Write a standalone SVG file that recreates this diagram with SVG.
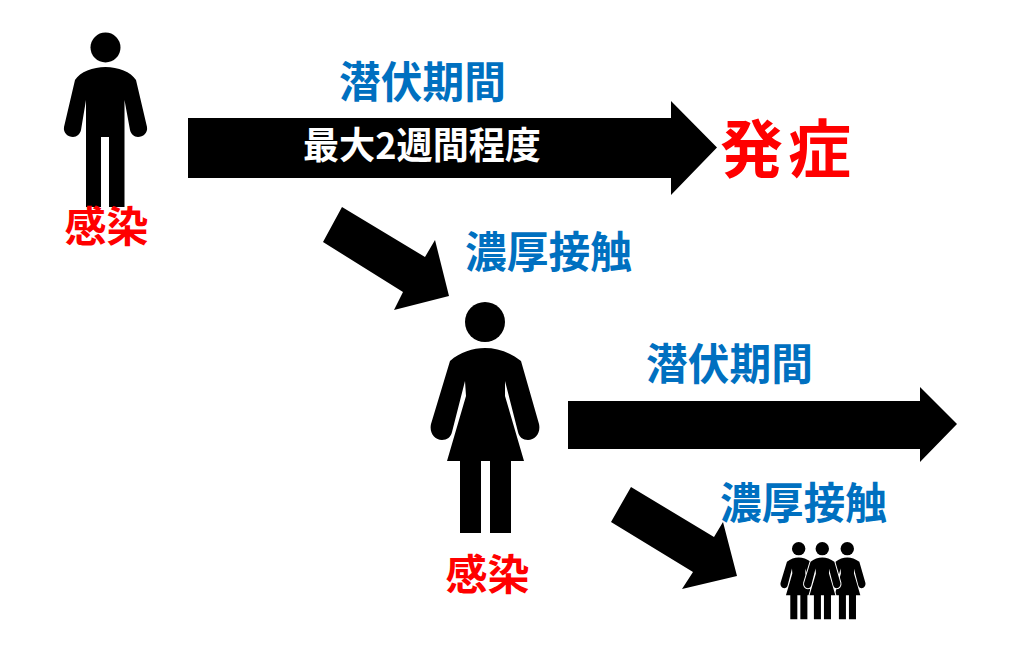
<svg xmlns="http://www.w3.org/2000/svg" xmlns:xlink="http://www.w3.org/1999/xlink" width="1030" height="660" viewBox="0 0 1030 660">
<style>
.t{font-family:"Noto Sans CJK JP","Noto Sans CJK SC",sans-serif;font-weight:700}
.b{fill:#0070C0;font-size:43px}
.r{fill:#FF0000}
.k{fill:#000}
</style>
<defs>
<g id="woman">
<circle cx="485" cy="322" r="20"/>
<path d="M450,361 C460,352 473,348 485,348 C497,348 510,352 521,361 L539,424 C541,433 535,440 528,440 C523,440 519,437 518,432 L505,381 L505,396 L524,461 L511,461 L511,533 L490,533 L490,461 L481,461 L481,533 L460,533 L460,461 L447,461 L466,396 L465,381 L452,432 C451,437 447,440 442,440 C435,440 429,433 431,424 Z"/>
</g>
</defs>
<rect width="1030" height="660" fill="#fff"/>
<g id="connectors" class="k">
<path d="M188,118 H671 V101 L717,147.500 L671,195 V178 H188 Z"/>
<path d="M342,207 L425,257 L435,240 L449,296 L394,310 L403,292 L323,242 Z"/>
<path d="M568,401 H920 V387 L957,424 L920,462 V449 H568 Z"/>
<path d="M631,487 L714,537 L723,522 L737,576 L682,589 L693,572 L611,522 Z"/>
</g>
<g id="man-infected">
<circle cx="105.500" cy="47.500" r="15"/>
<path d="M75,80 C80,72 93,67 105.500,67 C118,67 131,72 136,80 L147,127 C148,133 143,137 138,137 C134,137 131,134 130,130 L124.500,100 L124.500,207 L109,207 L109,137 L101,137 L101,207 L86,207 L86,100 L81,130 C80,134 77,137 73,137 C68,137 63,133 64,127 Z"/>
<text class="t r" x="106.500" y="242" font-size="42" text-anchor="middle">感染</text>
</g>
<g id="latency-1"><text class="t b" x="339" y="98" textLength="167" lengthAdjust="spacingAndGlyphs">潜伏期間</text></g>
<g id="duration"><text class="t" fill="#fff" font-size="37" x="303" y="159" textLength="238" lengthAdjust="spacingAndGlyphs">最大2週間程度</text></g>
<g id="onset"><text class="t r" x="720" y="172" font-size="63" textLength="131" lengthAdjust="spacing">発症</text></g>
<g id="contact-1"><text class="t b" x="465" y="268" textLength="167" lengthAdjust="spacingAndGlyphs">濃厚接触</text></g>
<g id="woman-infected">
<use href="#woman"/>
<text class="t r" x="487.500" y="590" font-size="42" text-anchor="middle">感染</text>
</g>
<g id="latency-2"><text class="t b" x="646" y="380" textLength="167" lengthAdjust="spacingAndGlyphs">潜伏期間</text></g>
<g id="contact-2"><text class="t b" x="720" y="519" textLength="167" lengthAdjust="spacingAndGlyphs">濃厚接触</text></g>
<g id="group">
<use href="#woman" transform="translate(636.200,440.800) scale(.335)"/>
<use href="#woman" transform="translate(684.800,440.800) scale(.335)"/>
<use href="#woman" transform="translate(659.800,440.800) scale(.335)" stroke="#fff" stroke-width="6" paint-order="stroke"/>
</g>
</svg>
